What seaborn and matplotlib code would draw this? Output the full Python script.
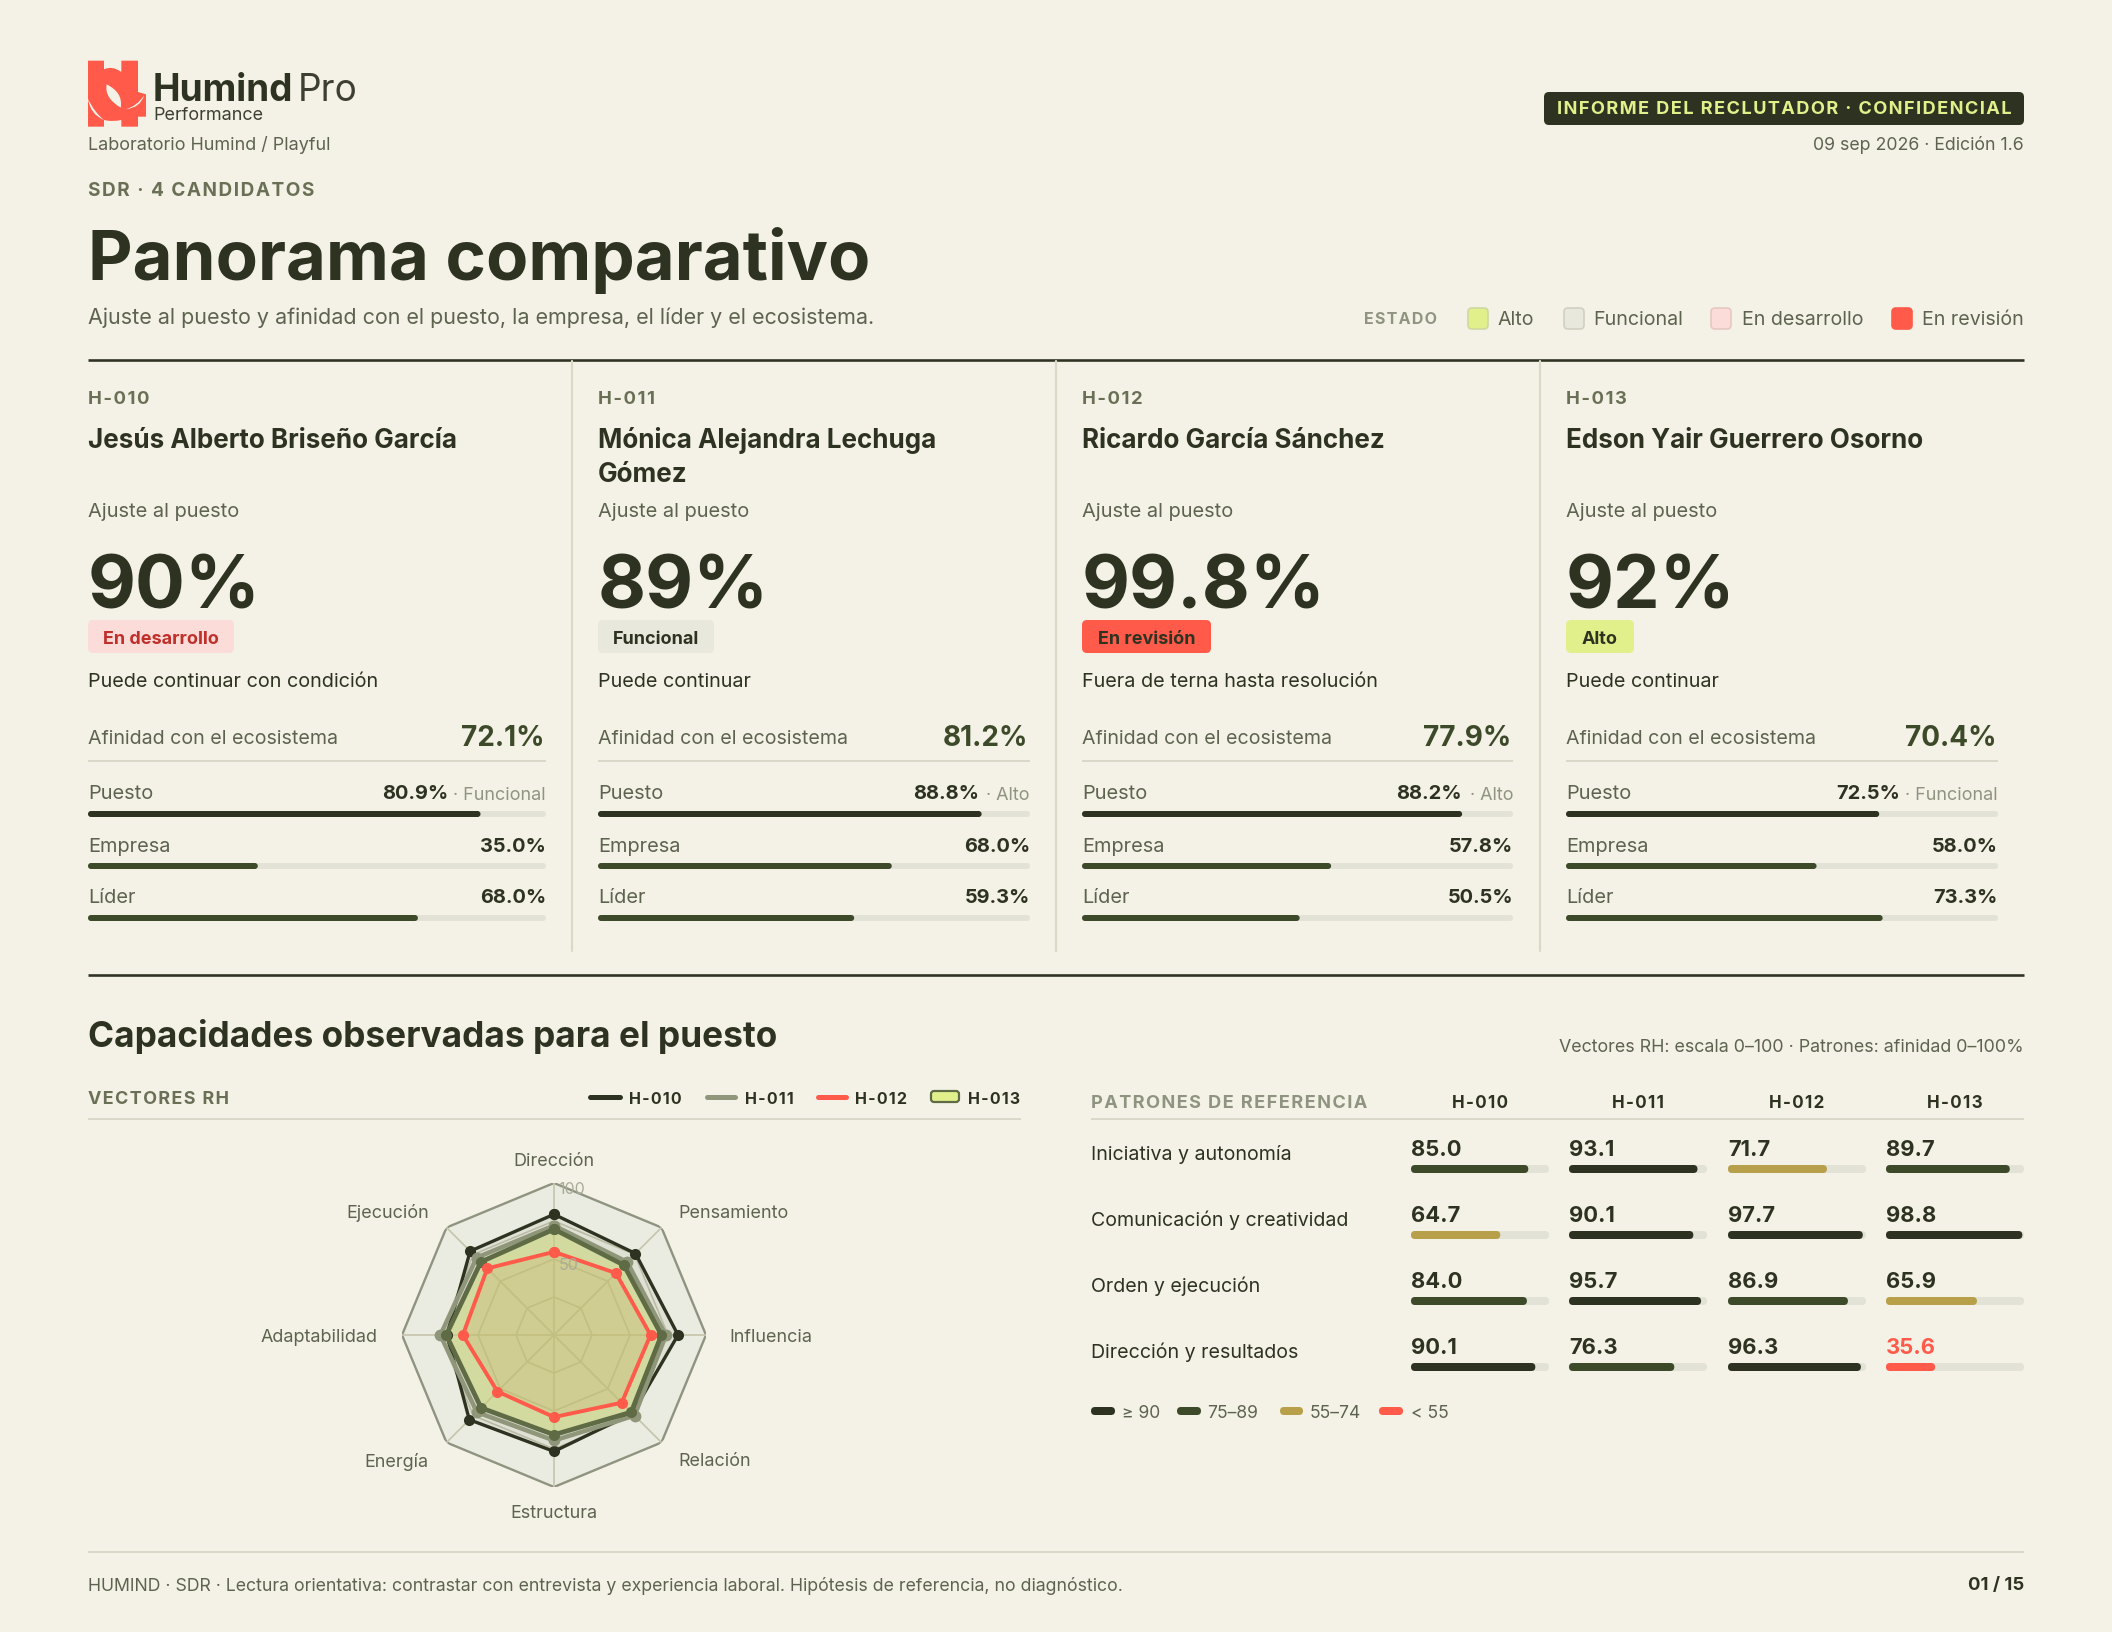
import numpy as np
import pandas as pd
import seaborn as sns
import matplotlib.pyplot as plt
from matplotlib.patches import FancyBboxPatch, PathPatch
from matplotlib.path import Path

# Colores del informe
BG = "#f4f2e6"
DARK = "#2e3321"
OLIVE = "#3d4a2a"
TEXT = "#5e6350"
MUTED = "#8f9480"
LINE = "#d9d8c9"
TRACK = "#e3e2d6"
RED = "#ff5a4a"
GOLD = "#b8a04a"
LIME = "#e2f08c"
FUNC = "#e8e8dc"
PINK = "#fbdcd8"
GRAY_SERIES = "#8f9679"
LIME_STROKE = "#5e6b45"

# Tarjetas de candidatos
ids = ["H-010", "H-011", "H-012", "H-013"]
nombres = ["Jesús Alberto Briseño García", "Mónica Alejandra Lechuga\nGómez",
           "Ricardo García Sánchez", "Edson Yair Guerrero Osorno"]
ajuste = ["90%", "89%", "99.8%", "92%"]
estado = ["En desarrollo", "Funcional", "En revisión", "Alto"]
decision = ["Puede continuar con condición", "Puede continuar",
            "Fuera de terna hasta resolución", "Puede continuar"]
ecosistema = [72.1, 81.2, 77.9, 70.4]
puesto = [80.9, 88.8, 88.2, 72.5]
puesto_nivel = ["Funcional", "Alto", "Alto", "Funcional"]
empresa = [35.0, 68.0, 57.8, 58.0]
lider = [68.0, 59.3, 50.5, 73.3]
ejes_afinidad = ["Puesto", "Empresa", "Líder"]

# Radar de vectores RH
vectores = ["Dirección", "Pensamiento", "Influencia", "Relación",
            "Estructura", "Energía", "Adaptabilidad", "Ejecución"]
radar_h010 = [79.4, 75.8, 81.6, 73.0, 76.6, 78.8, 70.5, 78.0]
radar_h011 = [72.0, 68.0, 73.5, 75.0, 69.4, 71.8, 74.8, 72.0]
radar_h012 = [54.7, 57.6, 63.5, 63.0, 54.0, 52.6, 60.0, 62.0]
radar_h013 = [69.6, 65.0, 70.7, 71.8, 65.6, 67.8, 70.9, 68.0]

# Patrones de referencia
patrones = ["Iniciativa y autonomía", "Comunicación y creatividad",
            "Orden y ejecución", "Dirección y resultados"]
patron_h010 = [85.0, 64.7, 84.0, 90.1]
patron_h011 = [93.1, 90.1, 95.7, 76.3]
patron_h012 = [71.7, 97.7, 86.9, 96.3]
patron_h013 = [89.7, 98.8, 65.9, 35.6]

W, H = 2112, 1632
sns.set_theme(style="white")
plt.rcParams["font.family"] = ["Inter", "DejaVu Sans"]
plt.rcParams["axes.unicode_minus"] = False

fig = plt.figure(figsize=(W / 100, H / 100), dpi=100, facecolor=BG)
bg = fig.add_axes([0, 0, 1, 1])
bg.set_xlim(0, W)
bg.set_ylim(H, 0)
bg.axis("off")


def px_axes(x0, y0, x1, y1, **kw):
    a = fig.add_axes([x0 / W, 1 - y1 / H, (x1 - x0) / W, (y1 - y0) / H], **kw)
    a.patch.set_alpha(0)
    return a


def t(x, y, s, size, color=TEXT, weight="normal", ha="left", va="center"):
    # size va en pixeles; el +2 centra mejor la caja de Inter
    return bg.text(x, y + 2, s, fontsize=size * 0.72, color=color, fontweight=weight, ha=ha, va=va)


def spaced(s):
    return "\u200a".join(s)


def hline(y, x0=88, x1=2024, color=LINE, lw=2.0):
    bg.plot([x0, x1], [y, y], color=color, lw=lw * 0.72, solid_capstyle="butt")


def pill(x0, y0, x1, y1, fc, r=5, ec="none", lw=0):
    bg.add_patch(FancyBboxPatch((x0, y0), x1 - x0, y1 - y0, boxstyle=f"round,pad=0,rounding_size={r}",
                                fc=fc, ec=ec, lw=lw))


def rounded_bars(ax, xmax, colors, bar_px, x_px, pitch_px):
    # barplot dibuja rectangulos; se cambian por barras con extremos redondos y su pista
    xu = xmax / x_px
    yu = 1 / pitch_px
    bars = list(ax.patches)
    for p, c in zip(bars, colors):
        y, w, h = p.get_y(), p.get_width(), p.get_height()
        p.remove()
        style = f"round,pad=0,rounding_size={bar_px / 2 * xu}"
        ax.add_patch(FancyBboxPatch((0, y), xmax, h, boxstyle=style, mutation_aspect=yu / xu,
                                    fc=TRACK, ec="none", zorder=1))
        ax.add_patch(FancyBboxPatch((0, y), w, h, boxstyle=style, mutation_aspect=yu / xu,
                                    fc=c, ec="none", zorder=2))


def clean(ax):
    ax.set_xlabel("")
    ax.set_ylabel("")
    ax.set_xticks([])
    ax.set_yticks([])
    sns.despine(ax=ax, left=True, bottom=True)


# Logo, puntos leidos a ojo del recorte ampliado
def logo():
    def z(p):
        return [(84 + a / 3, 56 + b / 3) for a, b in p]
    M, L, Q = Path.MOVETO, Path.LINETO, Path.CURVE3
    body = [(12, 14), (60, 14), (60, 40), (85, 28), (112, 48), (112, 14), (162, 14), (162, 108),
            (186, 115), (186, 182), (162, 182), (162, 212), (112, 212), (112, 192), (85, 198), (60, 192),
            (60, 212), (12, 212), (12, 14)]
    codes = [M, L, L, Q, Q, L, L, L, L, L, L, L, L, L, Q, Q, L, L, L]
    bg.add_patch(PathPatch(Path(z(body), codes), fc=RED, ec="none"))
    for shape in [[(12, 128), (18, 175), (60, 192), (30, 168), (12, 128)],
                  [(125, 160), (160, 150), (180, 118), (170, 155), (125, 160)],
                  [(68, 85), (60, 125), (110, 155), (118, 110), (68, 85)]]:
        bg.add_patch(PathPatch(Path(z(shape), [M, Q, Q, Q, Q]), fc=BG, ec="none"))


logo()
t(153, 89, "Humind", 37, DARK, "bold")
t(298, 89, "Pro", 37, "#3d4030")
t(153, 113, "Performance", 18, "#3d4030")
t(88, 143, "Laboratorio Humind / Playful", 18, TEXT)
t(88, 189, spaced("SDR · 4 CANDIDATOS"), 19, "#6a7055", "bold")
t(88, 258, "Panorama comparativo", 69, DARK, "bold")
t(88, 316, "Ajuste al puesto y afinidad con el puesto, la empresa, el líder y el ecosistema.", 21.5, TEXT)

pill(1544, 92, 2024, 125, DARK)
t(1784, 108, spaced("INFORME DEL RECLUTADOR · CONFIDENCIAL"), 18.2, LIME, "bold", ha="center")
t(2024, 143, "09 sep 2026 · Edición 1.6", 17.7, TEXT, ha="right")

# Leyenda de estado
t(1364, 318, spaced("ESTADO"), 16, MUTED, "bold")
for sx, tx, lab, fc, ec in [(1468, 1498, "Alto", LIME, "#cfd8a0"), (1564, 1593, "Funcional", FUNC, "#d0d0c2"),
                            (1711, 1742, "En desarrollo", PINK, "#e6c8c2"), (1892, 1922, "En revisión", RED, RED)]:
    pill(sx, 308, sx + 20, 329, fc, r=4, ec=ec, lw=1.2)
    t(tx, 318, lab, 19.6, TEXT)
hline(360, color=DARK, lw=2.6)

# Tarjetas
card_x = [88, 598, 1082, 1566]
card_end = [546, 1030, 1513, 1998]
card_xmax = [94.4, 100, 100, 100]
estado_fc = {"En desarrollo": PINK, "Funcional": FUNC, "En revisión": RED, "Alto": LIME}
estado_tc = {"En desarrollo": "#c0302b", "Funcional": DARK, "En revisión": DARK, "Alto": DARK}
pill_w = {"En desarrollo": 146, "Funcional": 116, "En revisión": 129, "Alto": 68}
for vx in [572, 1056, 1540]:
    bg.plot([vx, vx], [361, 951], color=LINE, lw=1.6)

for i, cid in enumerate(ids):
    x0, x1 = card_x[i], card_end[i]
    t(x0, 397, spaced(cid), 18.5, "#6a7055", "bold")
    t(x0, 439, nombres[i].split("\n")[0], 26, DARK, "bold")
    if "\n" in nombres[i]:
        t(x0, 473, nombres[i].split("\n")[1], 26, DARK, "bold")
    t(x0, 510, "Ajuste al puesto", 20, TEXT)
    t(x0, 587, ajuste[i], 74, DARK, "bold")
    pill(x0, 620, x0 + pill_w[estado[i]], 653, estado_fc[estado[i]])
    t(x0 + pill_w[estado[i]] / 2, 637, estado[i], 18, estado_tc[estado[i]], "bold", ha="center")
    t(x0, 680, decision[i], 19.8, DARK)
    t(x0, 737, "Afinidad con el ecosistema", 19.6, TEXT)
    t(x1 - 2, 737, f"{ecosistema[i]:.1f}%", 28, OLIVE, "bold", ha="right")
    hline(761, x0, x1, lw=2)
    t(x0, 792, "Puesto", 20, TEXT)
    t(x0, 845, "Empresa", 20, TEXT)
    t(x0, 896, "Líder", 20, TEXT)
    gap = 98 if puesto_nivel[i] == "Funcional" else 51
    t(x1 - gap, 792, f"{puesto[i]:.1f}%", 20, DARK, "bold", ha="right")
    t(x1, 793, f"· {puesto_nivel[i]}", 18, MUTED, ha="right")
    t(x1, 845, f"{empresa[i]:.1f}%", 20, DARK, "bold", ha="right")
    t(x1, 896, f"{lider[i]:.1f}%", 20, DARK, "bold", ha="right")

    df = pd.DataFrame({"eje": ejes_afinidad, "valor": [puesto[i], empresa[i], lider[i]]})
    ax = px_axes(x0, 788, x1, 944)
    sns.barplot(data=df, x="valor", y="eje", orient="h", width=6 / 52, color=OLIVE, ax=ax)
    ax.set_xlim(0, card_xmax[i])
    ax.set_ylim(2.5, -0.5)
    rounded_bars(ax, card_xmax[i], [DARK, OLIVE, OLIVE], 6, x1 - x0, 52)
    clean(ax)

hline(975, color=DARK, lw=2.6)

# Capacidades
t(88, 1034, "Capacidades observadas para el puesto", 35.2, DARK, "bold")
t(2024, 1046, "Vectores RH: escala 0–100 · Patrones: afinidad 0–100%", 17.85, TEXT, ha="right")
t(88, 1097, spaced("VECTORES RH"), 18, "#6a7055", "bold")
hline(1119, 88, 1021)

for lx0, lx1, tx, cid, c in [(590, 620, 629, "H-010", DARK), (707, 735, 745, "H-011", GRAY_SERIES), (818, 846, 855, "H-012", RED)]:
    bg.plot([lx0, lx1], [1097, 1097], color=c, lw=3.6, solid_capstyle="round")
    t(tx, 1097, spaced(cid), 16, DARK, "bold")
pill(931, 1091, 959, 1102, LIME, r=3, ec=LIME_STROKE, lw=1.6)
t(968, 1097, spaced("H-013"), 16, DARK, "bold")

# Radar en polares
n = len(vectores)
theta = np.linspace(0, 2 * np.pi, n, endpoint=False)
theta_c = np.append(theta, theta[0])
rad = px_axes(554 - 152, 1335 - 152, 554 + 152, 1335 + 152, projection="polar")
rad.set_theta_zero_location("N")
rad.set_theta_direction(-1)
rad.grid(False)
rad.spines["polar"].set_visible(False)
rad.fill(theta_c, [100] * (n + 1), color="#ebece1", zorder=1)
for r, c, lw in [(25, "#c4c4ad", 1.2), (50, "#c4c4ad", 1.2), (75, "#c4c4ad", 1.2), (100, "#8f9480", 1.7)]:
    rad.plot(theta_c, [r] * (n + 1), color=c, lw=lw, zorder=2)
for a in theta:
    rad.plot([a, a], [0, 100], color="#c4c4ad", lw=1.2, zorder=2)

rad.fill(theta_c, radar_h010 + radar_h010[:1], color=DARK, alpha=0.06, lw=0, zorder=3)
rad.fill(theta_c, radar_h011 + radar_h011[:1], color=GRAY_SERIES, alpha=0.16, lw=0, zorder=3)
rad.fill(theta_c, radar_h013 + radar_h013[:1], color="#d4e07a", alpha=0.5, lw=0, zorder=3)
rad.fill(theta_c, radar_h012 + radar_h012[:1], color="#b8703a", alpha=0.12, lw=0, zorder=3)
for vals, c, lw, ms, z_ in [(radar_h010, DARK, 2.4, 8, 4), (radar_h011, GRAY_SERIES, 3.2, 8.5, 5),
                            (radar_h013, LIME_STROKE, 3.4, 8, 6), (radar_h012, RED, 2.8, 8, 7)]:
    sns.lineplot(x=theta_c, y=vals + vals[:1], sort=False, estimator=None, color=c, lw=lw, marker="o",
                 markersize=ms, markeredgewidth=0, ax=rad, zorder=z_)
rad.set_xlabel("")
rad.set_ylabel("")
rad.set_xticks([])
rad.set_yticks([])
rad.set_ylim(0, 100)

rad_labels = [(554, 1159, "center"), (678, 1211, "left"), (729, 1335, "left"), (678, 1460, "left"),
              (554, 1511, "center"), (429, 1460, "right"), (378, 1335, "right"), (429, 1211, "right")]
for (lx, ly, ha), lab in zip(rad_labels, vectores):
    t(lx, ly, lab, 18, TEXT, ha=ha)
rad.text(572, 1189, "100", fontsize=11.5, color="#a9ac98", ha="center", va="center", transform=bg.transData, zorder=10)
rad.text(569, 1265, "50", fontsize=11.5, color="#a9ac98", ha="center", va="center", transform=bg.transData, zorder=10)

# Patrones de referencia
t(1091, 1102, spaced("PATRONES DE REFERENCIA"), 18.2, MUTED, "bold")
for cx, cid in zip([1480, 1638, 1797, 1955], ids):
    t(cx, 1102, spaced(cid), 17, DARK, "bold", ha="center")
hline(1119, 1091, 2024)
row_y = [1169, 1235, 1301, 1367]
for y, lab in zip(row_y, patrones):
    t(1091, y - 17, lab, 19.6, DARK)


def nivel(v):
    if v >= 90:
        return DARK
    if v >= 75:
        return OLIVE
    if v >= 55:
        return GOLD
    return RED


for cx, vals in zip([1411, 1569, 1728, 1886], [patron_h010, patron_h011, patron_h012, patron_h013]):
    df = pd.DataFrame({"patron": patrones, "valor": vals})
    ax = px_axes(cx, 1136, cx + 138, 1400)
    sns.barplot(data=df, x="valor", y="patron", orient="h", width=8 / 66, color=OLIVE, ax=ax)
    ax.set_xlim(0, 100)
    ax.set_ylim(3.5, -0.5)
    rounded_bars(ax, 100, [nivel(v) for v in vals], 8, 138, 66)
    clean(ax)
    for y, v in zip(row_y, vals):
        t(cx, y - 21, f"{v:.1f}", 22, RED if v < 55 else DARK, "bold")

for x0, x1, tx, lab, c in [(1091, 1115, 1122, "≥ 90", DARK), (1177, 1201, 1207, "75–89", OLIVE),
                           (1280, 1303, 1310, "55–74", GOLD), (1379, 1403, 1411, "< 55", RED)]:
    pill(x0, 1407, x1, 1415, c, r=4)
    t(tx, 1411, lab, 17.5, TEXT)

# Pie
hline(1552)
t(88, 1584, "HUMIND · SDR · Lectura orientativa: contrastar con entrevista y experiencia laboral. Hipótesis de referencia, no diagnóstico.", 17.7, TEXT)
t(2024, 1584, "01 / 15", 18.5, DARK, "bold", ha="right")

fig.savefig("out.png", dpi=100, facecolor=BG)
